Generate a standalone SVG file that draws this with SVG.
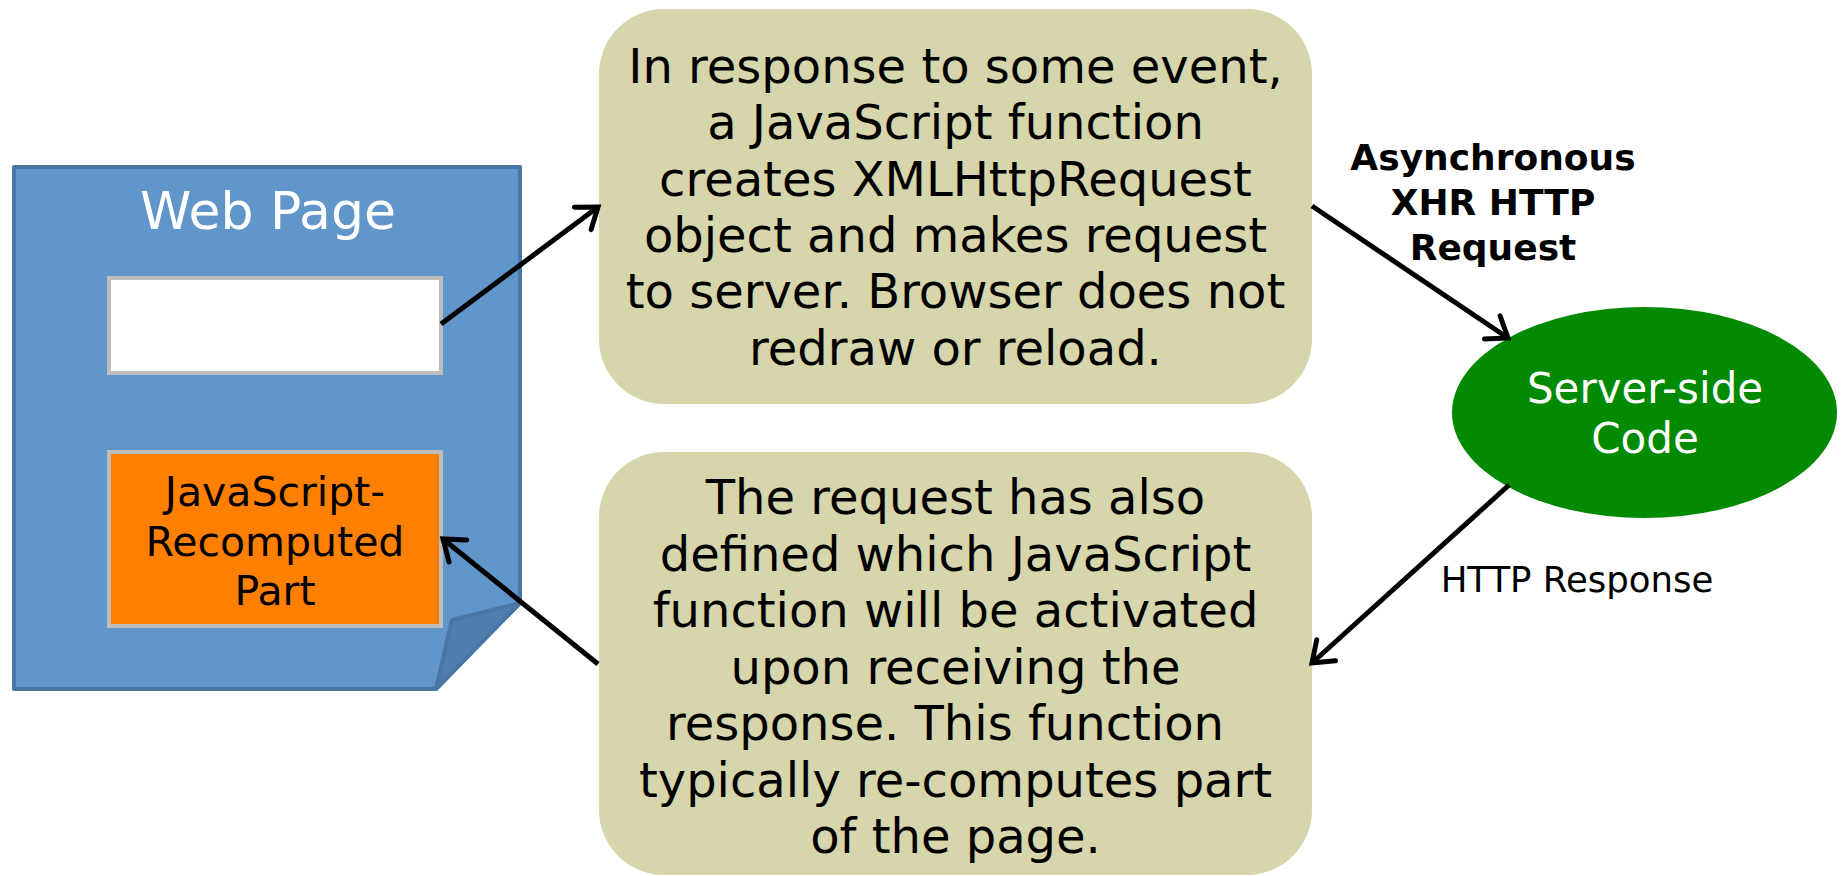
<svg xmlns="http://www.w3.org/2000/svg" width="1843" height="876" viewBox="0 0 1843 876">
<style>
  .t { font-family: "DejaVu Sans", Verdana, sans-serif; text-anchor: middle; }
  .box { fill: #D6D5AB; }
  .conn { stroke: #000; stroke-width: 5; fill: none; marker-end: url(#arr); }
  .body { font-size: 48px; fill: #000; }
</style>
<defs>
  <marker id="arr" markerUnits="userSpaceOnUse" markerWidth="40" markerHeight="40" refX="0" refY="0" viewBox="-25 -20 30 40" orient="auto" overflow="visible">
    <path d="M-19,-14 L0,0 L-19,14" fill="none" stroke="#000" stroke-width="5" stroke-linecap="round" stroke-linejoin="miter"/>
  </marker>
</defs>
<rect width="1843" height="876" fill="#fff"/>

<g id="webpage">
  <path d="M14,167 L520,167 L520,603 L436,689 L14,689 Z" fill="#6096C9" stroke="#4A76A6" stroke-width="4" stroke-linejoin="round"/>
  <path d="M520,603 L452,620 L436,689 Z" fill="#4F7DAE" stroke="#4A76A6" stroke-width="4" stroke-linejoin="round"/>
  <text class="t" x="268" y="229" font-size="52" fill="#fff">Web Page</text>
  <rect x="109" y="278" width="332" height="95" fill="#fff" stroke="#BDBDBD" stroke-width="4"/>
  <rect x="109" y="452" width="332" height="174" fill="#FF7F00" stroke="#BDBDBD" stroke-width="4"/>
  <text class="t" x="275" y="506" font-size="41" fill="#000">JavaScript-</text>
  <text class="t" x="275" y="556" font-size="41" fill="#000">Recomputed</text>
  <text class="t" x="275" y="605" font-size="41" fill="#000">Part</text>
</g>

<g id="request-box">
  <rect class="box" x="599" y="9" width="713" height="395" rx="65" ry="65"/>
  <text class="t body" x="955.5" y="83">In response to some event,</text>
  <text class="t body" x="955.5" y="139">a JavaScript function</text>
  <text class="t body" x="955.5" y="196">creates XMLHttpRequest</text>
  <text class="t body" x="955.5" y="252">object and makes request</text>
  <text class="t body" x="955.5" y="308">to server. Browser does not</text>
  <text class="t body" x="955.5" y="365">redraw or reload.</text>
</g>

<g id="response-box">
  <rect class="box" x="599" y="452" width="713" height="423" rx="65" ry="65"/>
  <text class="t body" x="955.5" y="514">The request has also</text>
  <text class="t body" x="955.5" y="571">defined which JavaScript</text>
  <text class="t body" x="955.5" y="627">function will be activated</text>
  <text class="t body" x="955.5" y="684">upon receiving the</text>
  <text class="t body" x="945" y="740">response. This function</text>
  <text class="t body" x="955.5" y="797">typically re-computes part</text>
  <text class="t body" x="955.5" y="853">of the page.</text>
</g>

<g id="server">
  <ellipse cx="1644.5" cy="412.5" rx="192.5" ry="105.5" fill="#028A02"/>
  <text class="t" x="1645" y="403" font-size="42" fill="#fff">Server-side</text>
  <text class="t" x="1645" y="453" font-size="42" fill="#fff">Code</text>
</g>

<g id="connectors">
  <line class="conn" x1="441" y1="324" x2="598" y2="207"/>
  <line class="conn" x1="1312" y1="206" x2="1508" y2="338"/>
  <line class="conn" x1="1509" y1="485" x2="1312" y2="663"/>
  <line class="conn" x1="598" y1="664" x2="443" y2="539"/>
  <text class="t" x="1493" y="170" font-size="36" font-weight="bold">Asynchronous</text>
  <text class="t" x="1493" y="215" font-size="36" font-weight="bold">XHR HTTP</text>
  <text class="t" x="1493" y="260" font-size="36" font-weight="bold">Request</text>
  <text class="t" x="1577" y="592" font-size="35.5">HTTP Response</text>
</g>
</svg>
